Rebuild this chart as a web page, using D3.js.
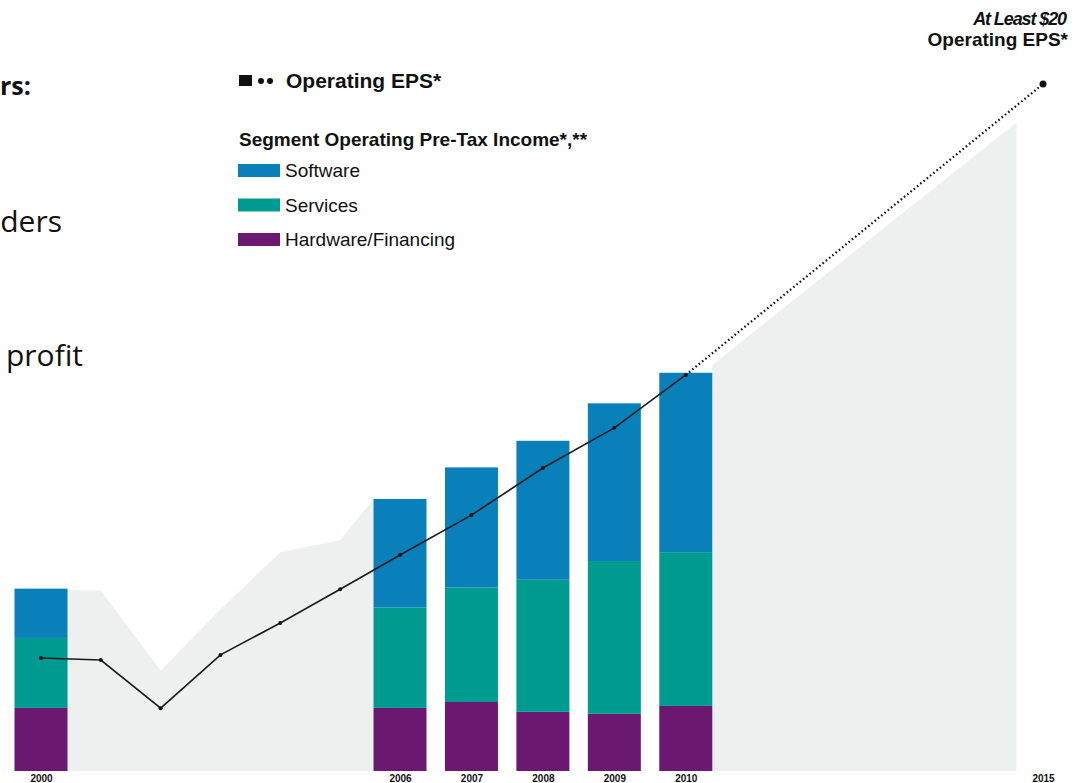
<!DOCTYPE html>
<html>
<head>
<meta charset="utf-8">
<script src="https://cdn.jsdelivr.net/npm/d3@7"></script>
<style>
  body { margin: 0; background: #fff; }
  svg { display: block; }
</style>
</head>
<body>
<script>
// segment operating pre-tax income ($B)
const years = [2000, 2006, 2007, 2008, 2009, 2010];
const software = [2.5, 5.5, 6.1, 7.05, 8.0, 9.1];
const services = [3.55, 5.1, 5.8, 6.7, 7.75, 7.8];
const hardware = [3.2, 3.2, 3.5, 3.0, 2.9, 3.3];

// operating EPS ($)
const epsYears = [2000, 2001, 2002, 2003, 2004, 2005, 2006, 2007, 2008, 2009, 2010, 2015];
const eps = [3.29, 3.23, 1.83, 3.38, 4.31, 5.29, 6.29, 7.45, 8.82, 9.99, 11.53, 20];

// grey background bands
const histYears = [2000, 2001, 2002, 2003, 2004, 2005, 2006];
const histIncome = [9.2, 9.15, 5.1, 8.2, 11.1, 11.7, 13.8];
const projYears = [2010, 2015];
const projIncome = [20.6, 32.9];

const tickYears = [2000, 2006, 2007, 2008, 2009, 2010, 2015];
const segments = ["Hardware/Financing", "Services", "Software"];
const legendOrder = ["Software", "Services", "Hardware/Financing"];
const colors = {"Software": "#0a80bb", "Services": "#009b90", "Hardware/Financing": "#6b1870"};

const w = 1086;
const h = 783;
const base = 771;
const bw = 53;

const svg = d3.select("body")
              .append("svg")
              .attr("width", w)
              .attr("height", h)
              .style("font-family", "'Liberation Sans', Arial, sans-serif");

const x = d3.scaleLinear()
            .domain([2000, 2006, 2015])
            .range([41, 400, 1043]);

const yBar = d3.scaleLinear()
               .domain([0, 35])
               .range([base, 81]);

const yEps = d3.scaleLinear()
               .domain([0, 20])
               .range([base, 84]);

// grey areas behind the bars
const hist = histYears.map((y, i) => ({year: y, v: histIncome[i]}));
const proj = projYears.map((y, i) => ({year: y, v: projIncome[i]}));

svg.append("path")
   .datum(hist)
   .attr("fill", "#eeefef")
   .attr("d", d3.area()
                .x((d, i, arr) => i === arr.length - 1 ? x(d.year) - bw / 2 : x(d.year))
                .y0(base)
                .y1(d => yBar(d.v)));

svg.append("path")
   .datum(proj)
   .attr("fill", "#eeefef")
   .attr("d", d3.area()
                .x((d, i) => i === 0 ? x(d.year) + bw / 2 : x(d.year) - bw / 2)
                .y0(base)
                .y1(d => yBar(d.v)));

// stacked bars
const rows = years.map((y, i) => ({
  year: y,
  "Hardware/Financing": hardware[i],
  "Services": services[i],
  "Software": software[i]
}));

const stacked = d3.stack().keys(segments)(rows);

svg.selectAll("g.layer")
   .data(stacked)
   .enter()
   .append("g")
   .attr("class", "layer")
   .attr("fill", d => colors[d.key])
   .selectAll("rect")
   .data(d => d)
   .enter()
   .append("rect")
   .attr("x", d => x(d.data.year) - bw / 2)
   .attr("width", bw)
   .attr("y", d => yBar(d[1]))
   .attr("height", d => yBar(d[0]) - yBar(d[1]));

// EPS line
const epsPts = epsYears.map((y, i) => ({year: y, v: eps[i]}));
const actual = epsPts.filter(d => d.year <= 2010);
const target = epsPts.filter(d => d.year >= 2010);
const line = d3.line().x(d => x(d.year)).y(d => yEps(d.v));

svg.append("path")
   .datum(actual)
   .attr("fill", "none")
   .attr("stroke", "#1a1a1a")
   .attr("stroke-width", 1.6)
   .attr("d", line);

svg.append("path")
   .datum(target)
   .attr("fill", "none")
   .attr("stroke", "#111")
   .attr("stroke-width", 2.2)
   .attr("stroke-dasharray", "1.6,2.6")
   .attr("d", line);

svg.selectAll("circle.eps")
   .data(epsPts)
   .enter()
   .append("circle")
   .attr("class", "eps")
   .attr("cx", d => x(d.year))
   .attr("cy", d => yEps(d.v))
   .attr("r", d => d.year === 2015 ? 3.5 : 2)
   .attr("fill", "#111");

// x axis
const axis = svg.append("g")
                .attr("transform", `translate(0,${base})`)
                .call(d3.axisBottom(x)
                        .tickValues(tickYears)
                        .tickFormat(d3.format("d"))
                        .tickSize(0)
                        .tickPadding(4));
axis.select(".domain").remove();
axis.selectAll("text")
    .attr("font-size", 10)
    .attr("font-weight", "bold")
    .attr("font-family", "'Liberation Sans', Arial, sans-serif")
    .attr("fill", "#111");

// legend
svg.append("rect")
   .attr("x", 239).attr("y", 75)
   .attr("width", 13).attr("height", 11)
   .attr("fill", "#111");
[261, 270].forEach(cx => {
  svg.append("circle").attr("cx", cx).attr("cy", 81).attr("r", 3).attr("fill", "#111");
});
svg.append("text")
   .attr("x", 286).attr("y", 88)
   .attr("font-size", 21)
   .attr("font-weight", "bold")
   .attr("fill", "#111")
   .text("Operating EPS*");

svg.append("text")
   .attr("x", 239).attr("y", 146)
   .attr("font-size", 19)
   .attr("font-weight", "bold")
   .attr("fill", "#111")
   .text("Segment Operating Pre-Tax Income*,**");

const leg = svg.selectAll("g.leg")
               .data(legendOrder)
               .enter()
               .append("g")
               .attr("class", "leg")
               .attr("transform", (d, i) => `translate(238,${164 + i * 34.5})`);
leg.append("rect")
   .attr("width", 42)
   .attr("height", 13)
   .attr("fill", d => colors[d]);
leg.append("text")
   .attr("x", 47)
   .attr("y", 13)
   .attr("font-size", 19)
   .attr("fill", "#111")
   .text(d => d);

// target annotation
svg.append("text")
   .attr("x", 1066).attr("y", 25)
   .attr("text-anchor", "end")
   .attr("font-size", 18)
   .attr("font-weight", "bold")
   .attr("font-style", "italic")
   .attr("letter-spacing", -1.1)
   .attr("fill", "#111")
   .text("At Least $20");
svg.append("text")
   .attr("x", 1068).attr("y", 46)
   .attr("text-anchor", "end")
   .attr("font-size", 19)
   .attr("font-weight", "bold")
   .attr("fill", "#111")
   .text("Operating EPS*");

// slide text at the left edge
const side = svg.append("g")
                .attr("font-family", "'Open Sans', 'Noto Sans', sans-serif")
                .attr("fill", "#111");
side.append("text").attr("x", 0).attr("y", 95)
    .attr("font-size", 25).attr("font-weight", "bold").text("rs:");
side.append("text").attr("x", 62).attr("y", 232)
    .attr("text-anchor", "end")
    .attr("font-size", 30).text("ders");
side.append("text").attr("x", 83).attr("y", 366)
    .attr("text-anchor", "end")
    .attr("font-size", 30).text("profit");
</script>
</body>
</html>
